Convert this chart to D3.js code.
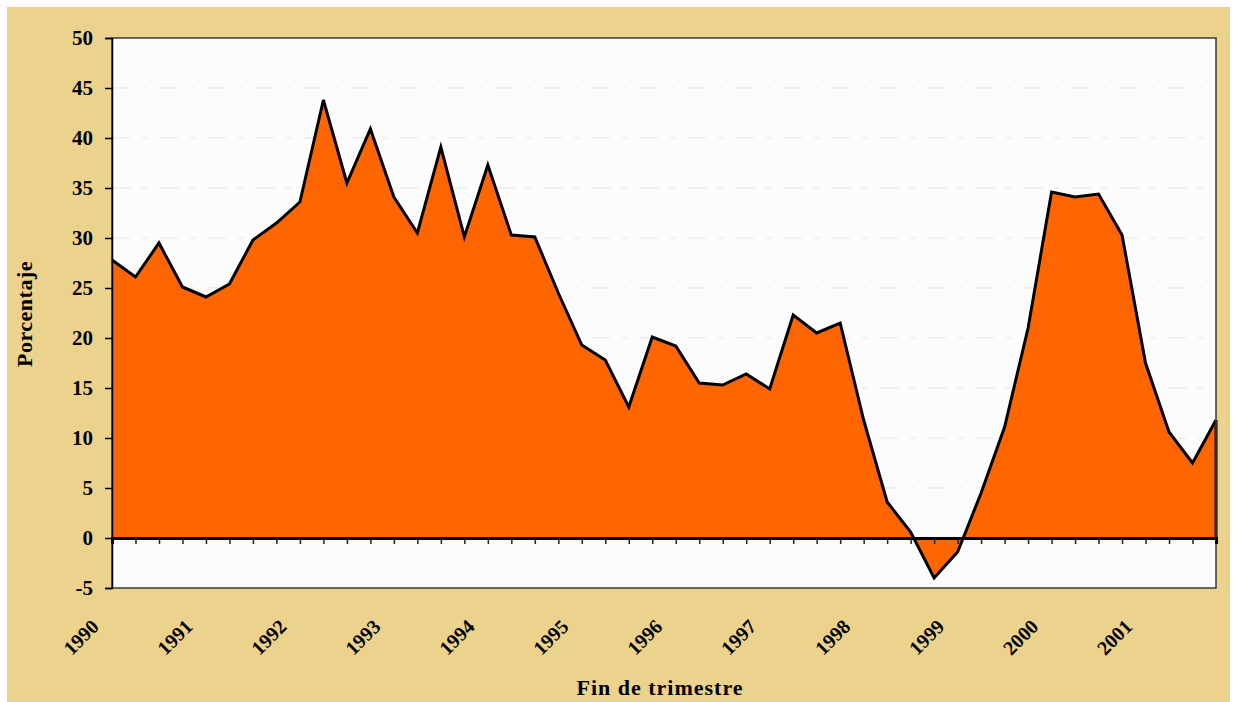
<!DOCTYPE html>
<html>
<head>
<meta charset="utf-8">
<script src="https://cdn.jsdelivr.net/npm/d3@7"></script>
<style>
  body { margin: 0; background: #fff; }
  text { font-family: "Liberation Serif", "DejaVu Serif", serif; font-weight: bold; fill: #000; }
</style>
</head>
<body>
<script>
// años y valores trimestrales (fin de trimestre, %)
var years = ["1990","1991","1992","1993","1994","1995","1996","1997","1998","1999","2000","2001"];
var quarters = years.flatMap(function(y){ return [y+"T1", y+"T2", y+"T3", y+"T4"]; });
var values = [
  27.8, 26.1, 29.5, 25.1,
  24.1, 25.4, 29.8, 31.5,
  33.6, 43.8, 35.5, 40.9,
  34.1, 30.5, 39.1, 30.1,
  37.3, 30.3, 30.1, 24.5,
  19.3, 17.8, 13.1, 20.1,
  19.2, 15.5, 15.3, 16.4,
  14.9, 22.3, 20.5, 21.5,
  11.8, 3.6, 0.6, -4.0,
  -1.4, 4.5, 11.1, 21.0,
  34.6, 34.1, 34.4, 30.3,
  17.5, 10.6, 7.5, 11.8
];
var yTicks = [-5, 0, 5, 10, 15, 20, 25, 30, 35, 40, 45, 50];

var W = 1236, H = 702;
var plot = {left: 112, right: 1216, top: 38, bottom: 588};

var svg = d3.select("body").append("svg")
    .attr("width", W)
    .attr("height", H);

svg.append("rect")
    .attr("x", 7).attr("y", 7)
    .attr("width", W - 13).attr("height", H - 7)
    .attr("fill", "#ebd38e");

var x = d3.scaleLinear()
    .domain([0, quarters.length - 1])
    .range([plot.left, plot.right]);

var y = d3.scaleLinear()
    .domain([-5, 50])
    .range([plot.bottom, plot.top]);

// fondo del area de trazado
svg.append("rect")
    .attr("x", plot.left).attr("y", plot.top)
    .attr("width", plot.right - plot.left).attr("height", plot.bottom - plot.top)
    .attr("fill", "#fcfcfc");

// lineas de cuadricula
svg.append("g").selectAll("line")
    .data(yTicks.filter(function(d){ return d > 0 && d < 50; }))
    .enter().append("line")
    .attr("x1", plot.left).attr("x2", plot.right)
    .attr("y1", function(d){ return y(d); })
    .attr("y2", function(d){ return y(d); })
    .attr("stroke", "#e3e3e3")
    .attr("stroke-width", 1)
    .attr("stroke-dasharray", "18,12,5,13");

var area = d3.area()
    .x(function(d,i){ return x(i); })
    .y0(y(0))
    .y1(function(d){ return y(d); });

var line = d3.line()
    .x(function(d,i){ return x(i); })
    .y(function(d){ return y(d); });

svg.append("path")
    .datum(values)
    .attr("d", area)
    .attr("fill", "#ff6600");

svg.append("path")
    .datum(values)
    .attr("d", line)
    .attr("fill", "none")
    .attr("stroke", "#000")
    .attr("stroke-width", 3)
    .attr("stroke-linejoin", "miter");

// linea vertical al final de la serie
svg.append("line")
    .attr("x1", x(values.length - 1)).attr("x2", x(values.length - 1))
    .attr("y1", y(values[values.length - 1])).attr("y2", y(0))
    .attr("stroke", "#000").attr("stroke-width", 3);

// borde del area de trazado
svg.append("rect")
    .attr("x", plot.left).attr("y", plot.top)
    .attr("width", plot.right - plot.left).attr("height", plot.bottom - plot.top)
    .attr("fill", "none")
    .attr("stroke", "#3a3a3a")
    .attr("stroke-width", 1.5);

// eje Y
var yAxis = svg.append("g")
    .attr("transform", "translate(" + plot.left + ",0)")
    .call(d3.axisLeft(y).tickValues(yTicks).tickSize(7).tickPadding(12)
        .tickFormat(function(d){ return String(d); }));
yAxis.select(".domain").attr("stroke", "#000").attr("stroke-width", 1.5);
yAxis.selectAll(".tick line").attr("stroke", "#000").attr("stroke-width", 1.5);
yAxis.selectAll("text")
    .style("font-size", "21px")
    .style("font-family", "'Liberation Serif', serif")
    .style("font-weight", "bold");

// eje X sobre la linea de cero
var xAxis = svg.append("g")
    .attr("transform", "translate(0," + y(0) + ")")
    .call(d3.axisBottom(x)
        .tickValues(d3.range(1, quarters.length - 1))
        .tickSize(6)
        .tickFormat(""));
xAxis.select(".domain").attr("stroke", "#000").attr("stroke-width", 3);
xAxis.selectAll(".tick line").attr("stroke", "#222").attr("stroke-width", 1.5);

// etiquetas de años
svg.append("g").selectAll("text")
    .data(years)
    .enter().append("text")
    .attr("transform", function(d,i){
        return "translate(" + (x(i * 4) - 17) + "," + 623 + ") rotate(-45)";
    })
    .attr("text-anchor", "end")
    .attr("dy", "0.35em")
    .style("font-size", "20px")
    .text(function(d){ return d; });

// titulos de ejes
svg.append("text")
    .attr("x", 660).attr("y", 695)
    .attr("text-anchor", "middle")
    .style("font-size", "22px")
    .style("letter-spacing", "1px")
    .text("Fin de trimestre");

svg.append("text")
    .attr("transform", "translate(32," + 314 + ") rotate(-90)")
    .attr("text-anchor", "middle")
    .style("font-size", "22px")
    .style("letter-spacing", "0.5px")
    .text("Porcentaje");
</script>
</body>
</html>
